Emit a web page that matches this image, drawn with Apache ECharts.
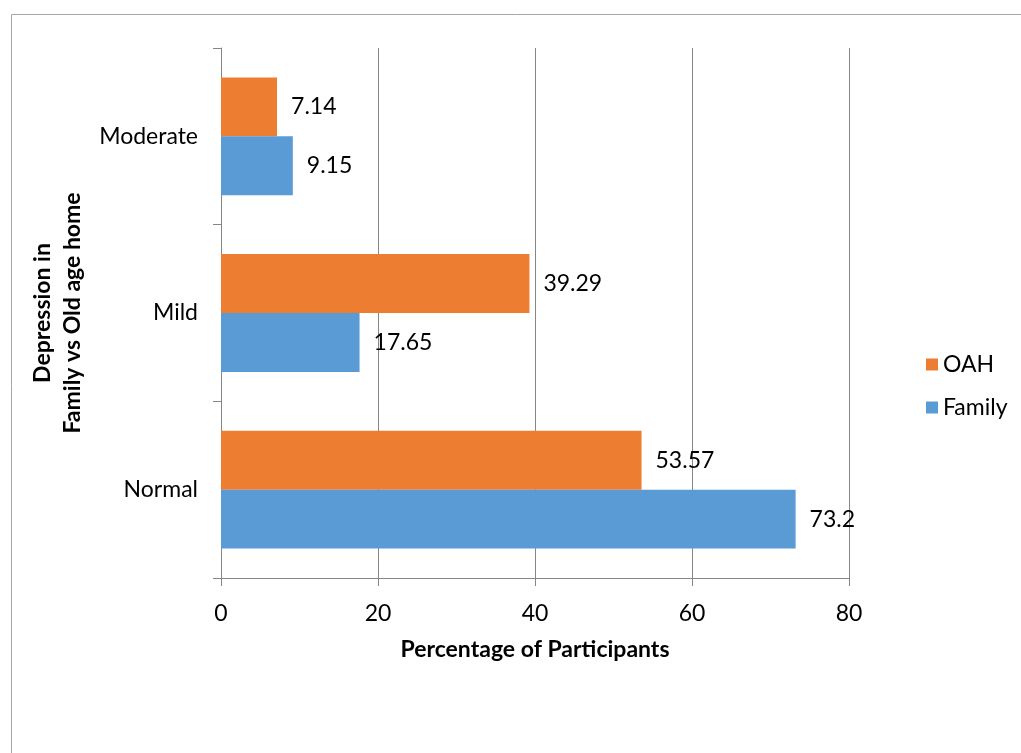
<!DOCTYPE html>
<html><head><meta charset="utf-8">
<script src="https://cdn.jsdelivr.net/npm/echarts@6/dist/echarts.min.js"></script>
<style>html,body{margin:0;padding:0;background:#fff}#c{width:1021px;height:753px}</style>
</head><body><div id="c"></div>
<script>
var categories = ['Normal', 'Mild', 'Moderate'];
var familyValues = [73.2, 17.65, 9.15];
var oahValues = [53.57, 39.29, 7.14];
var xTicks = [0, 20, 40, 60, 80];

var font = 'Lato, "Open Sans", sans-serif';
var fs = 23;
var chart = echarts.init(document.getElementById('c'));
chart.setOption({
  animation: false,
  textStyle: {fontFamily: font},
  graphic: [{type: 'rect', left: 9, top: 12, shape: {width: 1100, height: 900}, style: {fill: 'none', stroke: '#a6a6a6', lineWidth: 1}, silent: true}],
  grid: {left: 221, right: 172, top: 48, bottom: 175, containLabel: false, outerBoundsMode: 'none'},
  legend: {
    orient: 'vertical', left: 921, top: 348, data: ['OAH', 'Family'],
    icon: 'rect', itemWidth: 12, itemHeight: 12, itemGap: 20, itemTextGap: 6,
    textStyle: {fontSize: fs, color: '#000', fontFamily: font}
  },
  xAxis: {
    type: 'value', min: xTicks[0], max: xTicks[xTicks.length - 1], interval: 20,
    name: 'Percentage of Participants', nameLocation: 'middle', nameGap: 60,
    nameTextStyle: {fontSize: fs, fontWeight: 'bold', color: '#000', fontFamily: font},
    axisLine: {show: true, lineStyle: {color: '#868686'}},
    axisTick: {show: true, length: 8, lineStyle: {color: '#868686'}},
    axisLabel: {fontSize: fs, color: '#000', margin: 24, fontFamily: font},
    splitLine: {show: true, lineStyle: {color: '#868686'}}
  },
  yAxis: {
    type: 'category', data: categories,
    name: 'Depression in\nFamily vs Old age home', nameLocation: 'middle', nameRotate: 90, nameGap: 133,
    nameTextStyle: {fontSize: fs, fontWeight: 'bold', color: '#000', lineHeight: 30, fontFamily: font},
    axisLine: {show: true, lineStyle: {color: '#868686'}},
    axisTick: {show: true, length: 8, lineStyle: {color: '#868686'}},
    axisLabel: {fontSize: fs, color: '#000', margin: 23, fontFamily: font}
  },
  series: [
    {name: 'OAH', type: 'bar', data: oahValues, barGap: '0%', barCategoryGap: '33.3%',
     itemStyle: {color: '#ED7D31'},
     label: {show: true, position: 'right', distance: 14, fontSize: fs, color: '#000', fontFamily: font}},
    {name: 'Family', type: 'bar', data: familyValues, barGap: '0%', barCategoryGap: '33.3%',
     itemStyle: {color: '#5B9BD5'},
     label: {show: true, position: 'right', distance: 14, fontSize: fs, color: '#000', fontFamily: font}}
  ]
});
</script></body></html>
